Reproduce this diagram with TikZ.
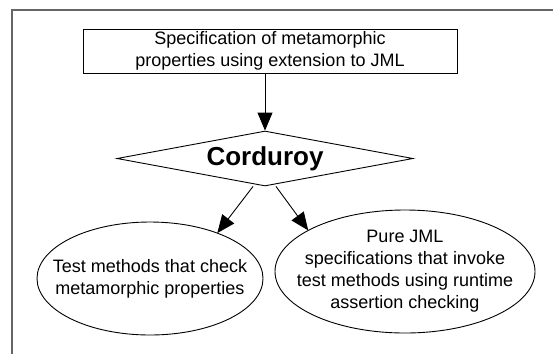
\documentclass[tikz,border=0pt]{standalone}
\usepackage{fontspec}
\setmainfont{Liberation Sans}
\usetikzlibrary{shapes.geometric,arrows.meta}

\begin{document}
\begin{tikzpicture}[x=1pt, y=-1pt,
	every node/.style={font=\fontsize{18}{22}\selectfont},
	specbox/.style={draw, thick, minimum width=374pt, minimum height=44pt, inner sep=0pt, align=center},
	decision/.style={draw, diamond, line width=0.9pt, aspect=5.4, minimum width=296pt, minimum height=55pt, inner sep=0pt},
	bubble/.style={draw, ellipse, line width=0.9pt, inner sep=0pt, outer sep=0pt},
	flow/.style={line width=0.9pt, -{Triangle[length=18pt, width=15pt]}}]
	\useasboundingbox (0,0) rectangle (553,354);
	% Rahmen
	\draw[black!60, line width=1.2pt] (12,354) -- (12,10) -- (553,10);
	% Knoten
	\node[specbox] (spec) at (270,51) {Specification of metamorphic\\properties using extension to JML};
	\node[decision] (corduroy) at (265,158.5) {\fontsize{26}{30}\selectfont\bfseries Corduroy};
	\node[bubble, minimum width=226pt, minimum height=113pt,
		label={[align=center]center:Test methods that check\\metamorphic properties}] (testm) at (150,278.5) {};
	\node[bubble, minimum width=260pt, minimum height=123pt,
		label={[align=center]center:Pure JML\\specifications that invoke\\test methods using runtime\\assertion checking}] (purejml) at (405,271.5) {};
	% Pfeile
	\draw[flow] (spec.south -| corduroy.north) -- (corduroy.north);
	\draw[flow] ([xshift=-12pt]corduroy.south) -- (testm.34);
	\draw[flow] ([xshift=11pt]corduroy.south) -- (purejml.157);
\end{tikzpicture}
\end{document}
